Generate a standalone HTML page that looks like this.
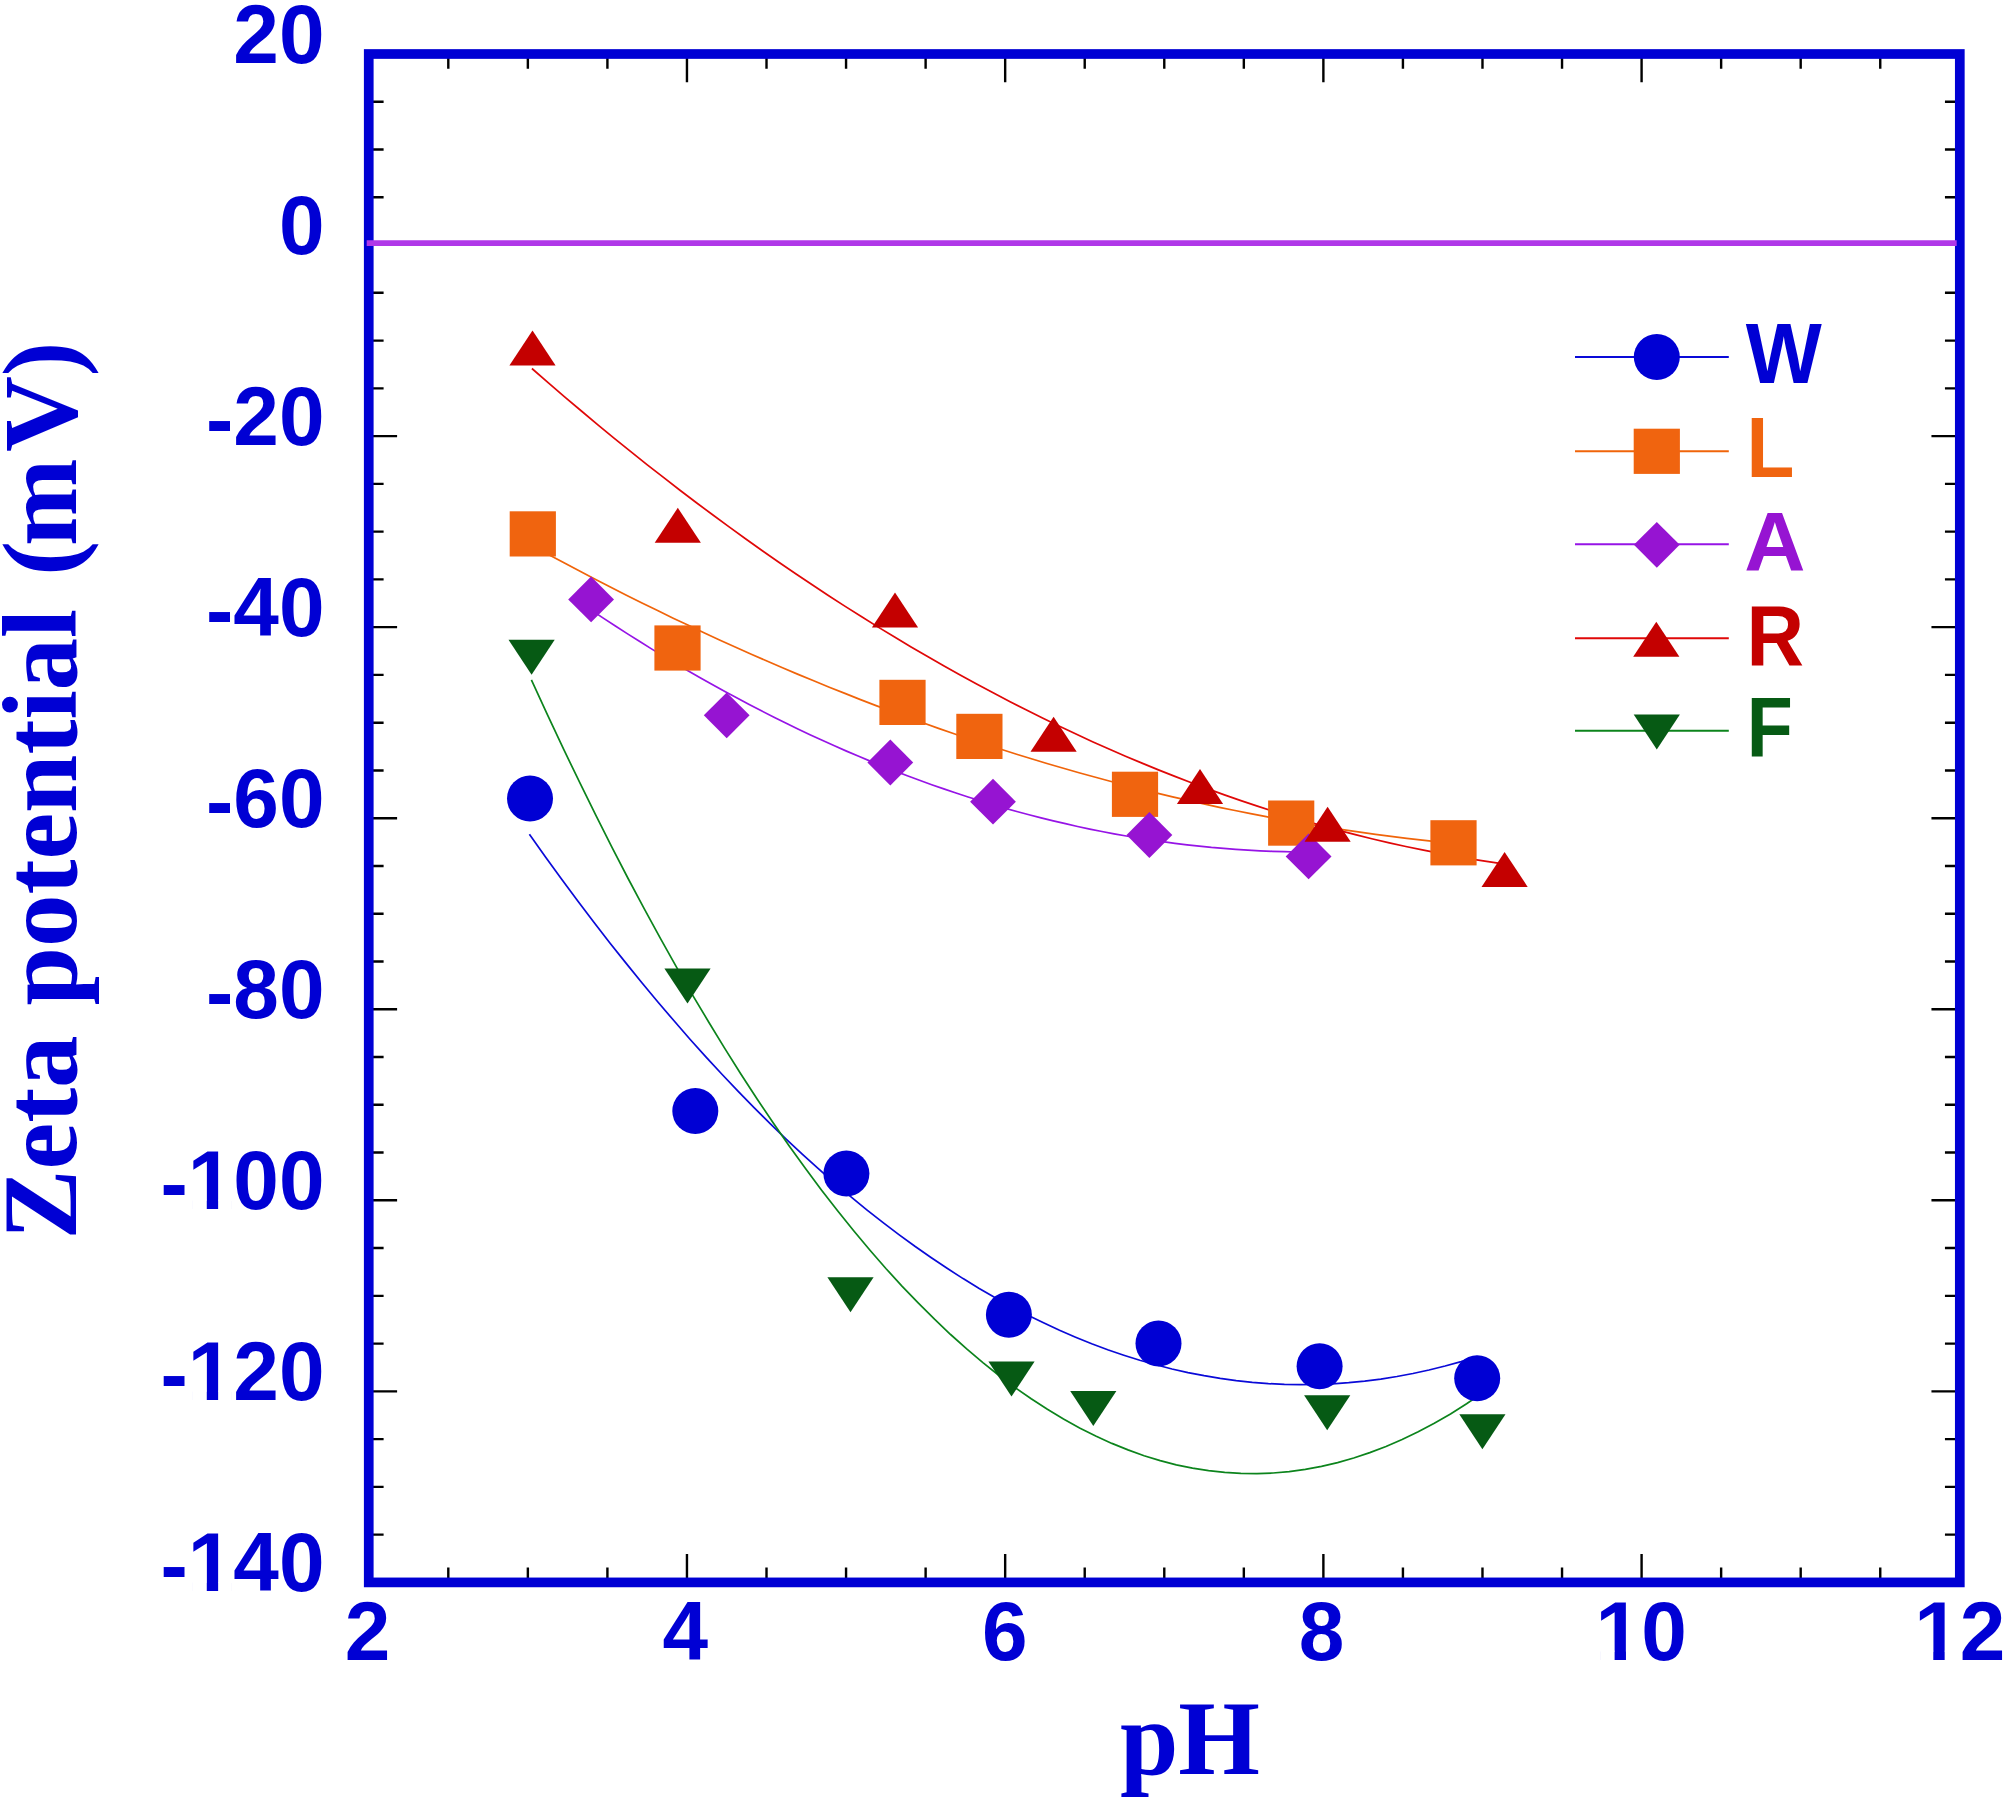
<!DOCTYPE html>
<html><head><meta charset="utf-8"><title>Zeta potential vs pH</title>
<style>
html,body{margin:0;padding:0;background:#fff;width:2008px;height:1800px;overflow:hidden}
svg{display:block}
.s{font-family:"Liberation Sans",Arial,Helvetica,sans-serif;font-weight:bold;font-size:82px}
.t{font-family:"Liberation Serif","Times New Roman",Times,serif;font-weight:bold;font-size:105px}
</style></head><body>
<svg width="2008" height="1800" viewBox="0 0 2008 1800">
<rect width="2008" height="1800" fill="#fff"/>
<path d="M372.60 101.76h11.00M1955.95 101.76h-11.00M372.60 149.53h11.00M1955.95 149.53h-11.00M372.60 197.29h11.00M1955.95 197.29h-11.00M372.60 292.81h11.00M1955.95 292.81h-11.00M372.60 340.58h11.00M1955.95 340.58h-11.00M372.60 388.34h11.00M1955.95 388.34h-11.00M372.60 436.10h24.50M1955.95 436.10h-24.50M372.60 483.86h11.00M1955.95 483.86h-11.00M372.60 531.62h11.00M1955.95 531.62h-11.00M372.60 579.39h11.00M1955.95 579.39h-11.00M372.60 627.15h24.50M1955.95 627.15h-24.50M372.60 674.91h11.00M1955.95 674.91h-11.00M372.60 722.68h11.00M1955.95 722.68h-11.00M372.60 770.44h11.00M1955.95 770.44h-11.00M372.60 818.20h24.50M1955.95 818.20h-24.50M372.60 865.96h11.00M1955.95 865.96h-11.00M372.60 913.73h11.00M1955.95 913.73h-11.00M372.60 961.49h11.00M1955.95 961.49h-11.00M372.60 1009.25h24.50M1955.95 1009.25h-24.50M372.60 1057.01h11.00M1955.95 1057.01h-11.00M372.60 1104.78h11.00M1955.95 1104.78h-11.00M372.60 1152.54h11.00M1955.95 1152.54h-11.00M372.60 1200.30h24.50M1955.95 1200.30h-24.50M372.60 1248.06h11.00M1955.95 1248.06h-11.00M372.60 1295.83h11.00M1955.95 1295.83h-11.00M372.60 1343.59h11.00M1955.95 1343.59h-11.00M372.60 1391.35h24.50M1955.95 1391.35h-24.50M372.60 1439.11h11.00M1955.95 1439.11h-11.00M372.60 1486.88h11.00M1955.95 1486.88h-11.00M372.60 1534.64h11.00M1955.95 1534.64h-11.00M448.30 57.85v11.00M448.30 1578.55v-11.00M527.86 57.85v11.00M527.86 1578.55v-11.00M607.41 57.85v11.00M607.41 1578.55v-11.00M686.96 57.85v24.50M686.96 1578.55v-24.50M766.51 57.85v11.00M766.51 1578.55v-11.00M846.06 57.85v11.00M846.06 1578.55v-11.00M925.62 57.85v11.00M925.62 1578.55v-11.00M1005.17 57.85v24.50M1005.17 1578.55v-24.50M1084.72 57.85v11.00M1084.72 1578.55v-11.00M1164.28 57.85v11.00M1164.28 1578.55v-11.00M1243.83 57.85v11.00M1243.83 1578.55v-11.00M1323.38 57.85v24.50M1323.38 1578.55v-24.50M1402.93 57.85v11.00M1402.93 1578.55v-11.00M1482.48 57.85v11.00M1482.48 1578.55v-11.00M1562.04 57.85v11.00M1562.04 1578.55v-11.00M1641.59 57.85v24.50M1641.59 1578.55v-24.50M1721.14 57.85v11.00M1721.14 1578.55v-11.00M1800.69 57.85v11.00M1800.69 1578.55v-11.00M1880.25 57.85v11.00M1880.25 1578.55v-11.00" stroke="#000" stroke-width="2.4" fill="none"/>
<rect x="368.75" y="54.0" width="1591.05" height="1528.40" fill="none" stroke="#0000D4" stroke-width="9.7"/>
<line x1="366.7" y1="243.1" x2="1956.7" y2="243.1" stroke="#B038E8" stroke-width="5.8"/>
<path d="M529.4 834.3 L545.5 856.9 L561.5 879.1 L577.6 900.7 L593.7 921.9 L609.7 942.7 L625.8 962.9 L641.9 982.7 L657.9 1002.0 L674.0 1020.8 L690.0 1039.2 L706.1 1057.1 L722.2 1074.5 L738.2 1091.4 L754.3 1107.9 L770.4 1123.9 L786.4 1139.4 L802.5 1154.4 L818.6 1168.9 L834.6 1183.0 L850.7 1196.6 L866.8 1209.8 L882.8 1222.4 L898.9 1234.6 L914.9 1246.3 L931.0 1257.5 L947.1 1268.3 L963.1 1278.6 L979.2 1288.4 L995.3 1297.7 L1011.3 1306.5 L1027.4 1314.9 L1043.5 1322.8 L1059.5 1330.3 L1075.6 1337.2 L1091.7 1343.7 L1107.7 1349.7 L1123.8 1355.2 L1139.8 1360.3 L1155.9 1364.8 L1172.0 1369.0 L1188.0 1372.6 L1204.1 1375.7 L1220.2 1378.4 L1236.2 1380.6 L1252.3 1382.3 L1268.4 1383.6 L1284.4 1384.4 L1300.5 1384.7 L1316.6 1384.5 L1332.6 1383.8 L1348.7 1382.7 L1364.7 1381.1 L1380.8 1379.1 L1396.9 1376.5 L1412.9 1373.5 L1429.0 1370.0 L1445.1 1366.0 L1461.1 1361.6 L1477.2 1356.6" fill="none" stroke="#0A0AD8" stroke-width="1.7"/>
<path d="M532.8 545.9 L548.4 554.4 L564.0 562.8 L579.6 571.0 L595.2 579.2 L610.8 587.2 L626.4 595.2 L642.0 603.0 L657.6 610.6 L673.2 618.2 L688.9 625.6 L704.5 633.0 L720.1 640.2 L735.7 647.2 L751.3 654.2 L766.9 661.0 L782.5 667.7 L798.1 674.4 L813.7 680.8 L829.3 687.2 L844.9 693.4 L860.5 699.6 L876.1 705.6 L891.7 711.4 L907.3 717.2 L922.9 722.8 L938.5 728.4 L954.1 733.8 L969.7 739.1 L985.3 744.2 L1001.0 749.3 L1016.6 754.2 L1032.2 759.0 L1047.8 763.7 L1063.4 768.2 L1079.0 772.7 L1094.6 777.0 L1110.2 781.2 L1125.8 785.3 L1141.4 789.3 L1157.0 793.1 L1172.6 796.8 L1188.2 800.4 L1203.8 803.9 L1219.4 807.3 L1235.0 810.5 L1250.6 813.7 L1266.2 816.7 L1281.8 819.6 L1297.4 822.3 L1313.1 825.0 L1328.7 827.5 L1344.3 829.9 L1359.9 832.2 L1375.5 834.4 L1391.1 836.4 L1406.7 838.3 L1422.3 840.2 L1437.9 841.8 L1453.5 843.4" fill="none" stroke="#F0640A" stroke-width="1.7"/>
<path d="M591.1 610.0 L603.3 618.1 L615.4 626.0 L627.6 633.9 L639.8 641.5 L651.9 649.1 L664.1 656.5 L676.2 663.8 L688.4 670.9 L700.6 677.9 L712.7 684.8 L724.9 691.5 L737.1 698.1 L749.2 704.5 L761.4 710.8 L773.5 717.0 L785.7 723.0 L797.9 728.9 L810.0 734.7 L822.2 740.3 L834.4 745.8 L846.5 751.1 L858.7 756.3 L870.8 761.4 L883.0 766.3 L895.2 771.1 L907.3 775.8 L919.5 780.3 L931.7 784.7 L943.8 788.9 L956.0 793.0 L968.1 797.0 L980.3 800.8 L992.5 804.5 L1004.6 808.1 L1016.8 811.5 L1029.0 814.7 L1041.1 817.9 L1053.3 820.9 L1065.4 823.7 L1077.6 826.5 L1089.8 829.1 L1101.9 831.5 L1114.1 833.8 L1126.3 836.0 L1138.4 838.0 L1150.6 839.9 L1162.7 841.7 L1174.9 843.3 L1187.1 844.8 L1199.2 846.1 L1211.4 847.4 L1223.6 848.4 L1235.7 849.4 L1247.9 850.2 L1260.0 850.8 L1272.2 851.3 L1284.4 851.7 L1296.5 852.0 L1308.7 852.1" fill="none" stroke="#9614E6" stroke-width="1.7"/>
<path d="M531.9 368.5 L548.4 382.9 L564.9 397.1 L581.4 411.0 L597.9 424.8 L614.3 438.3 L630.8 451.7 L647.3 464.8 L663.8 477.7 L680.3 490.5 L696.8 503.0 L713.3 515.3 L729.8 527.4 L746.2 539.3 L762.7 551.0 L779.2 562.5 L795.7 573.8 L812.2 584.8 L828.7 595.7 L845.2 606.4 L861.7 616.8 L878.2 627.1 L894.6 637.1 L911.1 647.0 L927.6 656.6 L944.1 666.0 L960.6 675.3 L977.1 684.3 L993.6 693.1 L1010.1 701.7 L1026.5 710.1 L1043.0 718.3 L1059.5 726.3 L1076.0 734.1 L1092.5 741.7 L1109.0 749.0 L1125.5 756.2 L1142.0 763.1 L1158.4 769.9 L1174.9 776.4 L1191.4 782.8 L1207.9 788.9 L1224.4 794.9 L1240.9 800.6 L1257.4 806.1 L1273.9 811.4 L1290.4 816.5 L1306.8 821.4 L1323.3 826.1 L1339.8 830.6 L1356.3 834.9 L1372.8 839.0 L1389.3 842.8 L1405.8 846.5 L1422.3 849.9 L1438.7 853.2 L1455.2 856.2 L1471.7 859.1 L1488.2 861.7 L1504.7 864.2" fill="none" stroke="#E00808" stroke-width="1.7"/>
<path d="M531.4 679.8 L547.5 714.9 L563.6 749.2 L579.8 782.7 L595.9 815.4 L612.0 847.4 L628.1 878.5 L644.3 908.8 L660.4 938.4 L676.5 967.1 L692.6 995.1 L708.8 1022.2 L724.9 1048.6 L741.0 1074.2 L757.1 1099.0 L773.3 1123.0 L789.4 1146.2 L805.5 1168.6 L821.6 1190.2 L837.8 1211.0 L853.9 1231.0 L870.0 1250.2 L886.1 1268.7 L902.2 1286.3 L918.4 1303.1 L934.5 1319.2 L950.6 1334.5 L966.7 1348.9 L982.9 1362.6 L999.0 1375.5 L1015.1 1387.6 L1031.2 1398.8 L1047.4 1409.3 L1063.5 1419.0 L1079.6 1428.0 L1095.7 1436.1 L1111.9 1443.4 L1128.0 1449.9 L1144.1 1455.7 L1160.2 1460.6 L1176.3 1464.8 L1192.5 1468.1 L1208.6 1470.7 L1224.7 1472.4 L1240.8 1473.4 L1257.0 1473.6 L1273.1 1473.0 L1289.2 1471.6 L1305.3 1469.4 L1321.5 1466.4 L1337.6 1462.6 L1353.7 1458.0 L1369.8 1452.6 L1386.0 1446.5 L1402.1 1439.5 L1418.2 1431.7 L1434.3 1423.2 L1450.5 1413.9 L1466.6 1403.7 L1482.7 1392.8" fill="none" stroke="#0C841C" stroke-width="1.7"/>
<g fill="#0000D4"><circle cx="530.0" cy="798.6" r="23.0"/><circle cx="695.3" cy="1111.1" r="23.0"/><circle cx="846.4" cy="1173.6" r="23.0"/><circle cx="1008.9" cy="1314.7" r="23.0"/><circle cx="1158.5" cy="1343.4" r="23.0"/><circle cx="1319.6" cy="1366.3" r="23.0"/><circle cx="1477.2" cy="1378.2" r="23.0"/></g>
<g fill="#F0640F"><rect x="509.7" y="511.3" width="46.2" height="45.2"/><rect x="654.4" y="625.4" width="46.2" height="45.2"/><rect x="879.4" y="679.8" width="46.2" height="45.2"/><rect x="956.3" y="713.8" width="46.2" height="45.2"/><rect x="1111.9" y="771.7" width="46.2" height="45.2"/><rect x="1268.1" y="800.5" width="46.2" height="45.2"/><rect x="1430.4" y="820.2" width="46.2" height="45.2"/></g>
<g fill="#9614D2"><path d="M591.1 576.5l22.9 22.9l-22.9 22.9l-22.9 -22.9z"/><path d="M726.7 692.4l22.9 22.9l-22.9 22.9l-22.9 -22.9z"/><path d="M890.3 739.6l22.9 22.9l-22.9 22.9l-22.9 -22.9z"/><path d="M993.0 778.8l22.9 22.9l-22.9 22.9l-22.9 -22.9z"/><path d="M1149.4 812.1l22.9 22.9l-22.9 22.9l-22.9 -22.9z"/><path d="M1308.6 833.5l22.9 22.9l-22.9 22.9l-22.9 -22.9z"/></g>
<g fill="#C40000"><path d="M532.5 330.6l23.1 35h-46.2z"/><path d="M677.8 507.8l23.1 35h-46.2z"/><path d="M895.0 592.5l23.1 35h-46.2z"/><path d="M1053.6 716.7l23.1 35h-46.2z"/><path d="M1200.0 768.9l23.1 35h-46.2z"/><path d="M1327.6 806.7l23.1 35h-46.2z"/><path d="M1504.6 851.9l23.1 35h-46.2z"/></g>
<g fill="#065A14"><path d="M508.5 639.7h46.2l-23.1 35z"/><path d="M664.4 968.6h46.2l-23.1 35z"/><path d="M827.4 1277.2h46.2l-23.1 35z"/><path d="M988.4 1361.5h46.2l-23.1 35z"/><path d="M1070.2 1391.1h46.2l-23.1 35z"/><path d="M1304.1 1395.2h46.2l-23.1 35z"/><path d="M1459.3 1414.3h46.2l-23.1 35z"/></g>
<line x1="1575" y1="357.0" x2="1728.8" y2="357.0" stroke="#0A0AD8" stroke-width="2"/>
<g fill="#0000D4"><circle cx="1656.8" cy="357.0" r="23.0"/></g>
<text class="s" text-anchor="start" transform="translate(1745.70 383.20) scale(0.9831 1.0410)" fill="#0000D4" id="lgW">W</text>
<line x1="1575" y1="451.3" x2="1728.8" y2="451.3" stroke="#F0640A" stroke-width="2"/>
<g fill="#F0640F"><rect x="1633.7" y="428.7" width="46.2" height="45.2"/></g>
<text class="s" text-anchor="start" transform="translate(1746.54 477.10) scale(0.9560 1.0357)" fill="#F0640F" id="lgL">L</text>
<line x1="1575" y1="544.2" x2="1728.8" y2="544.2" stroke="#9614E6" stroke-width="2"/>
<g fill="#9614D2"><path d="M1656.8 521.9l22.9 22.9l-22.9 22.9l-22.9 -22.9z"/></g>
<text class="s" text-anchor="start" transform="translate(1744.13 570.90) scale(1.0338 1.0277)" fill="#9614D2" id="lgA">A</text>
<line x1="1575" y1="638.3" x2="1728.8" y2="638.3" stroke="#E00808" stroke-width="2"/>
<g fill="#C40000"><path d="M1656.3 621.7l23.1 35h-46.2z"/></g>
<text class="s" text-anchor="start" transform="translate(1746.46 664.70) scale(0.9710 1.0383)" fill="#C40000" id="lgR">R</text>
<line x1="1575" y1="730.8" x2="1728.8" y2="730.8" stroke="#0C841C" stroke-width="2"/>
<g fill="#065A14"><path d="M1633.7 714.4h46.2l-23.1 35z"/></g>
<text class="s" text-anchor="start" transform="translate(1746.75 757.20) scale(0.9193 1.0383)" fill="#065A14" id="lgF">F</text>
<text class="s" text-anchor="end" transform="translate(324.50 62.70) scale(1 1.025)" fill="#0000D4" id="y20">20</text>
<text class="s" text-anchor="end" transform="translate(324.50 253.75) scale(1 1.025)" fill="#0000D4" id="y0">0</text>
<text class="s" text-anchor="end" transform="translate(324.50 444.80) scale(1 1.025)" dy="2.63 -2.63" fill="#0000D4" id="y-20">-20</text>
<text class="s" text-anchor="end" transform="translate(324.50 635.85) scale(1 1.025)" dy="2.63 -2.63" fill="#0000D4" id="y-40">-40</text>
<text class="s" text-anchor="end" transform="translate(324.50 826.90) scale(1 1.025)" dy="2.63 -2.63" fill="#0000D4" id="y-60">-60</text>
<text class="s" text-anchor="end" transform="translate(324.50 1017.95) scale(1 1.025)" dy="2.63 -2.63" fill="#0000D4" id="y-80">-80</text>
<text class="s" text-anchor="end" transform="translate(324.50 1209.00) scale(1 1.025)" dy="2.63 -2.63" fill="#0000D4" id="y-100">-100</text>
<text class="s" text-anchor="end" transform="translate(324.50 1400.05) scale(1 1.025)" dy="2.63 -2.63" fill="#0000D4" id="y-120">-120</text>
<text class="s" text-anchor="end" transform="translate(324.50 1591.10) scale(1 1.025)" dy="2.63 -2.63" fill="#0000D4" id="y-140">-140</text>
<text class="s" text-anchor="middle" transform="translate(367.45 1659.90) scale(1.0000 1.0250)" fill="#0000D4" id="x2">2</text>
<text class="s" text-anchor="middle" transform="translate(685.26 1659.90) scale(1.0000 1.0250)" fill="#0000D4" id="x4">4</text>
<text class="s" text-anchor="middle" transform="translate(1004.67 1659.90) scale(1.0000 1.0250)" fill="#0000D4" id="x6">6</text>
<text class="s" text-anchor="middle" transform="translate(1321.58 1659.90) scale(1.0000 1.0250)" fill="#0000D4" id="x8">8</text>
<text class="s" text-anchor="middle" transform="translate(1641.14 1659.90) scale(1.0000 1.0250)" fill="#0000D4" id="x10">10</text>
<text class="s" text-anchor="middle" transform="translate(1959.80 1659.90) scale(1.0000 1.0250)" fill="#0000D4" id="x12">12</text>
<path d="M192.25 1199.82H206.78v9.98H192.25zM218.13 1199.82H231.61v9.98H218.13zM192.25 1390.87H206.78v9.98H192.25zM218.13 1390.87H231.61v9.98H218.13zM192.25 1581.92H206.78v9.98H192.25zM218.13 1581.92H231.61v9.98H218.13zM1600.10 1650.72H1614.62v9.98H1600.10zM1625.98 1650.72H1639.46v9.98H1625.98zM1918.76 1650.72H1933.28v9.98H1918.76zM1944.64 1650.72H1958.12v9.98H1944.64z" fill="#fff"/>
<text class="t" text-anchor="middle" x="1190" y="1773.7" fill="#0000D4" id="xt">pH</text>
<text class="t" text-anchor="start" transform="translate(75.6 1239.5) rotate(-90)" dx="0 0 0 0 0 3.7 0 0 0 0 0 0 0 0 0 6.75 -5.25 6.5 -0.4" fill="#0000D4" id="yt">Zeta potential (mV)</text>
</svg>
</body></html>
